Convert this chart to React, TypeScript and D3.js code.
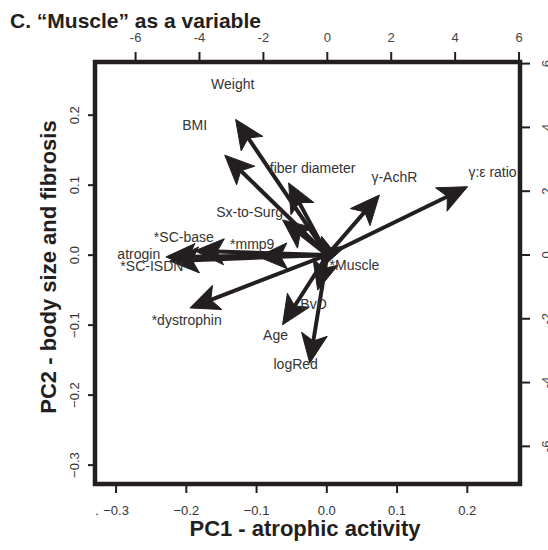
import React from 'react';
import * as d3 from 'd3';

// loading vectors (top / right axis units)
const variables = ['Weight', 'BMI', 'fiber diameter', 'Sx-to-Surg', 'γ-AchR', 'γ:ε ratio', '*mmp9', '*SC-base',
  'atrogin', '*SC-ISDN', '*dystrophin', '*Muscle', 'BvD', 'Age', 'logRed'];
const loadX = [-2.87, -3.21, -1.21, -1.40, 1.63, 4.39, -2.17, -4.15, -5.05, -4.93, -4.30, -0.18, -0.30, -1.40, -0.55];
const loadY = [4.25, 3.13, 2.26, 1.10, 1.88, 2.14, -0.05, 0.13, -0.06, -0.19, -1.66, -0.41, -1.10, -2.19, -3.39];
// where the names sit, same units
const labelX = [-2.96, -4.15, -0.46, -2.43, 2.10, 5.17, -2.35, -4.49, -5.90, -5.49, -4.40, 0.85, -0.43, -1.62, -0.99];
const labelY = [5.36, 4.08, 2.73, 1.35, 2.45, 2.60, 0.34, 0.56, 0.03, -0.34, -2.04, -0.31, -1.54, -2.51, -3.42];

const pcTicks = [-0.3, -0.2, -0.1, 0.0, 0.1, 0.2];
const loadTicks = [-6, -4, -2, 0, 2, 4, 6];

const FONT = '"Liberation Sans", Arial, Helvetica, sans-serif';
const INK = '#231f20';

const App = () => {
  const width = 548, height = 550;
  const left = 95, right = 520, top = 62, bottom = 484;

  const pcX = d3.scaleLinear().domain([-0.33, 0.275]).range([left, right]);
  const pcY = d3.scaleLinear().domain([-0.327, 0.276]).range([bottom, top]);
  const ldX = d3.scaleLinear().domain([-7.27, 6.03]).range([left, right]);
  const ldY = d3.scaleLinear().domain([-7.18, 6.05]).range([bottom, top]);

  const ox = ldX(0), oy = ldY(0);
  const headLen = 32, headAng = (24 * Math.PI) / 180;

  const arrows = variables.map((v, i) => {
    const tx = ldX(loadX[i]), ty = ldY(loadY[i]);
    const a = Math.atan2(ty - oy, tx - ox);
    const b1 = [tx - headLen * Math.cos(a - headAng), ty - headLen * Math.sin(a - headAng)];
    const b2 = [tx - headLen * Math.cos(a + headAng), ty - headLen * Math.sin(a + headAng)];
    const n = [tx - 0.7 * headLen * Math.cos(a), ty - 0.7 * headLen * Math.sin(a)];
    const len = Math.hypot(tx - ox, ty - oy);
    const head = d3.line()([[tx, ty], b1 as [number, number], n as [number, number], b2 as [number, number]]) + 'Z';
    return { v, tx, ty, n, len, head };
  });

  const fmtPc = d3.format('.1f');

  return (
    <svg width={width} height={height} style={{ position: 'absolute', left: 0, top: 0 }} fontFamily={FONT}>
      <rect width={width} height={height} fill="#fff" />

      <text x={10} y={28} fontSize={21} fontWeight="bold" fill={INK}>C. “Muscle” as a variable</text>

      {/* arrows */}
      {arrows.map(d => (
        <g key={d.v}>
          {d.len > 0.7 * headLen && (
            <line x1={ox} y1={oy} x2={d.n[0]} y2={d.n[1]} stroke={INK} strokeWidth={4} />
          )}
          <path d={d.head} fill={INK} stroke={INK} strokeWidth={1} strokeLinejoin="miter" />
        </g>
      ))}

      {/* variable names */}
      {variables.map((v, i) => (
        <text key={v} x={ldX(labelX[i])} y={ldY(labelY[i])} dy="0.35em" textAnchor="middle" fontSize={14} fill="#333">
          {v}
        </text>
      ))}

      {/* frame */}
      <rect x={left} y={top} width={right - left} height={bottom - top} fill="none" stroke={INK} strokeWidth={4.5} />

      {/* bottom axis, PC1 */}
      {pcTicks.map(t => (
        <g key={'b' + t}>
          <line x1={pcX(t)} x2={pcX(t)} y1={bottom} y2={bottom + 9} stroke={INK} strokeWidth={2} />
          <text x={pcX(t)} y={515} textAnchor="middle" fontSize={13} fill="#333">{fmtPc(t)}</text>
        </g>
      ))}
      <text x={pcX(-0.3) - 19} y={515} textAnchor="middle" fontSize={13} fill="#333">.</text>

      {/* left axis, PC2 */}
      {pcTicks.map(t => (
        <g key={'l' + t}>
          <line x1={left - 7} x2={left} y1={pcY(t)} y2={pcY(t)} stroke={INK} strokeWidth={2} />
          <text transform={`translate(79,${pcY(t)}) rotate(-90)`} textAnchor="middle" fontSize={13} fill="#333">{fmtPc(t)}</text>
        </g>
      ))}

      {/* top axis, loadings */}
      {loadTicks.map(t => (
        <g key={'t' + t}>
          <line x1={ldX(t)} x2={ldX(t)} y1={top - 10} y2={top} stroke={INK} strokeWidth={2} />
          <text x={ldX(t)} y={41.5} textAnchor="middle" fontSize={13} fill="#444">{t}</text>
        </g>
      ))}

      {/* right axis, loadings */}
      {loadTicks.map(t => (
        <g key={'r' + t}>
          <line x1={right} x2={right + 10} y1={ldY(t)} y2={ldY(t)} stroke={INK} strokeWidth={2} />
          <text transform={`translate(551,${ldY(t)}) rotate(-90)`} textAnchor="middle" fontSize={13} fill="#444">{t}</text>
        </g>
      ))}

      <text x={305} y={536} textAnchor="middle" fontSize={22} fontWeight="bold" fill={INK}>PC1 - atrophic activity</text>
      <text transform="translate(56,267) rotate(-90)" textAnchor="middle" fontSize={22} fontWeight="bold" fill={INK}>
        PC2 - body size and fibrosis
      </text>
    </svg>
  );
};

export default App;
